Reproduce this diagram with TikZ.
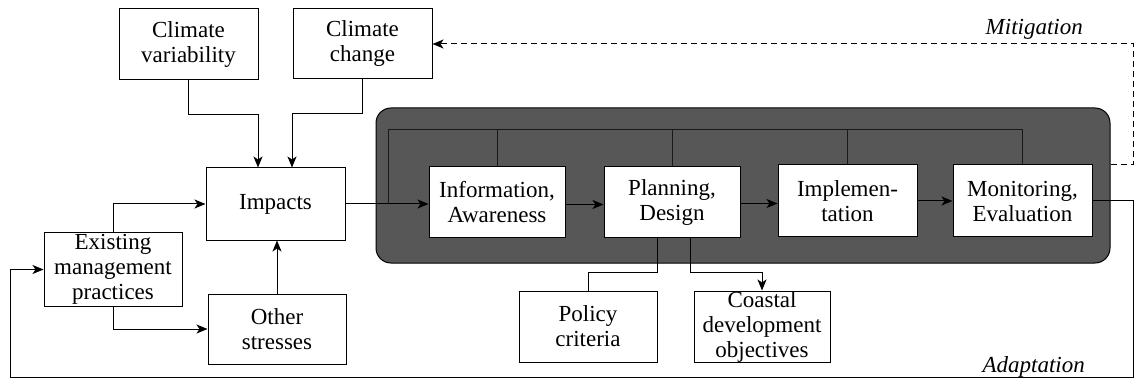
\documentclass[tikz,border=0pt]{standalone}
\usepackage{fontspec}
\setmainfont{Liberation Serif}
\usetikzlibrary{arrows.meta}
\begin{document}
\begin{tikzpicture}[x=1pt,y=-1pt,
  box/.style={draw,line width=1pt,fill=white,inner sep=0pt,align=center,
    font=\fontsize{23}{25}\selectfont},
  conn/.style={line width=1pt},
  arr/.style={conn,-{Stealth[length=11pt,width=9pt,inset=3pt]}},
  dsh/.style={arr,dash pattern=on 6pt off 4pt},
  lab/.style={font=\fontsize{23}{25}\selectfont\itshape,inner sep=0pt},
  inner/.style={line width=0.8pt,black!90}]
\useasboundingbox (0,0) rectangle (1135,390);
% shaded frame
\node[draw,line width=1pt,fill=black!66,rounded corners=15pt,inner sep=0pt,
  minimum width=734pt,minimum height=155pt] (frame) at (743,185.5) {};
% inner feedback lines
\coordinate (fl) at (388,129);
\draw[inner] (fl) -- (1022,129);
\draw[inner] (fl) -- (388,204);
% boxes
\node[box,minimum width=139pt,minimum height=71pt] (cv) at (188.5,44.5) {Climate\\variability};
\node[box,minimum width=139pt,minimum height=70pt] (cc) at (362.5,44) {Climate\\change};
\node[box,minimum width=139pt,minimum height=72pt] (imp) at (275.5,204) {Impacts};
\node[box,minimum width=138pt,minimum height=73pt] (emp) at (113,269.5) {Existing\\management\\practices};
\node[box,minimum width=138pt,minimum height=70pt] (os) at (277,329) {Other\\stresses};
\node[box,minimum width=136pt,minimum height=71pt] (info) at (497,202.5) {Information,\\Awareness};
\node[box,minimum width=136pt,minimum height=71pt] (plan) at (672,202.5) {Planning,\\Design};
\node[box,minimum width=139pt,minimum height=72pt] (impl) at (847.5,201) {Implemen-\\tation};
\node[box,minimum width=139pt,minimum height=72pt] (mon) at (1022.5,201) {Monitoring,\\Evaluation};
\node[box,minimum width=138pt,minimum height=71pt] (pol) at (588,326.5) {Policy\\criteria};
\node[box,minimum width=136pt,minimum height=71pt] (coast) at (762,326.5) {Coastal\\development\\objectives};
% inner verticals from box tops
\foreach \b in {info,plan,impl,mon}{
  \draw[inner] (\b.north) -- (\b.north |- fl);
}
% connectors
\draw[arr] (cv.south) -- ++(0,34) -| ([xshift=-17.5pt]imp.north);
\draw[arr] (cc.south) -- ++(0,34) -| ([xshift=16.5pt]imp.north);
\draw[arr] (emp.north) |- (imp.west);
\draw[arr] (emp.south) |- (os.west);
\draw[arr] (os.north) -- (os.north |- imp.south);
\draw[arr] (imp.east) -- (imp.east -| info.west);
\draw[arr] ([yshift=-2pt]info.east) -- ([yshift=-2pt]info.east -| plan.west);
\draw[arr] ([yshift=-1pt]plan.east) -- ([yshift=-1pt]plan.east -| impl.west);
\draw[arr] (impl.east) -- (impl.east -| mon.west);
\draw[conn] ([xshift=-15pt]plan.south) -- ++(0,34) -| (pol.north);
\draw[arr] ([xshift=18pt]plan.south) -- ++(0,34) -| (coast.north);
% mitigation
\coordinate (mR) at (1133,165);
\draw[dsh] (frame.east |- mR) -- (mR) |- (cc.east);
\node[lab,anchor=base east] (mitl) at (1083,35) {Mitigation};
% adaptation
\coordinate (aR) at (1133,377);
\coordinate (aL) at (10,377);
\draw[arr] (mon.east) -- (mon.east -| aR) -- (aR) -- (aL) |- (emp.west);
\node[lab,anchor=base east] (adl) at (1085,372) {Adaptation};
\end{tikzpicture}
\end{document}
